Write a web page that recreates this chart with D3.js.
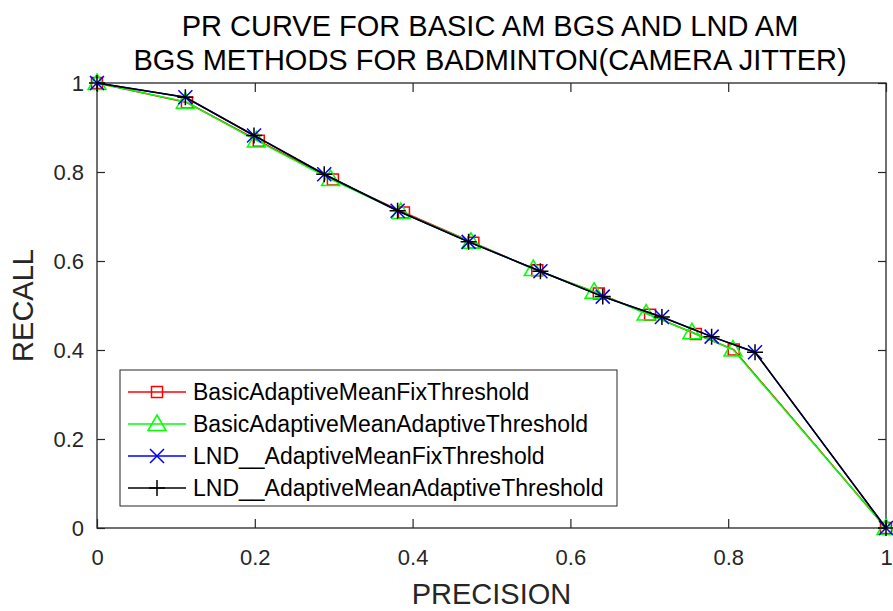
<!DOCTYPE html>
<html>
<head>
<meta charset="utf-8">
<script src="https://cdn.jsdelivr.net/npm/d3@7"></script>
<style>
  body { margin: 0; background: #fff; }
  svg { font-family: "Liberation Sans", Arial, sans-serif; }
</style>
</head>
<body>
<div id="chart"></div>
<script>
// precision (x) / recall (y)
const basicFixPrecision = [0, 0.114, 0.205, 0.299, 0.389, 0.477, 0.558, 0.636, 0.701, 0.759, 0.807, 1];
const basicFixRecall    = [1, 0.956, 0.870, 0.783, 0.709, 0.641, 0.579, 0.527, 0.479, 0.436, 0.401, 0];
const basicAdaPrecision = [0, 0.112, 0.202, 0.296, 0.385, 0.474, 0.553, 0.630, 0.696, 0.754, 0.806, 1];
const basicAdaRecall    = [1, 0.958, 0.871, 0.784, 0.710, 0.643, 0.582, 0.531, 0.482, 0.440, 0.401, 0];
const lndFixPrecision   = [0, 0.112, 0.199, 0.288, 0.381, 0.471, 0.562, 0.641, 0.716, 0.779, 0.834, 1];
const lndFixRecall      = [1, 0.968, 0.882, 0.795, 0.713, 0.643, 0.577, 0.520, 0.474, 0.430, 0.395, 0];
const lndAdaPrecision   = [0, 0.112, 0.199, 0.288, 0.381, 0.471, 0.562, 0.641, 0.716, 0.779, 0.834, 1];
const lndAdaRecall      = [1, 0.968, 0.882, 0.795, 0.713, 0.643, 0.577, 0.520, 0.474, 0.430, 0.395, 0];

const seriesNames = ["BasicAdaptiveMeanFixThreshold", "BasicAdaptiveMeanAdaptiveThreshold",
                     "LND__AdaptiveMeanFixThreshold", "LND__AdaptiveMeanAdaptiveThreshold"];
const seriesColors = ["#ff0000", "#00ff00", "#0000ff", "#000000"];
const seriesMarkers = ["square", "triangle", "cross", "plus"];
const tickValues = [0, 0.2, 0.4, 0.6, 0.8, 1];
const titleLines = ["PR CURVE FOR BASIC AM BGS AND LND AM", "BGS METHODS FOR BADMINTON(CAMERA JITTER)"];

const W = 893, H = 611;
const plotL = 97, plotR = 886, plotT = 83, plotB = 528;

const series = [
  [basicFixPrecision, basicFixRecall],
  [basicAdaPrecision, basicAdaRecall],
  [lndFixPrecision, lndFixRecall],
  [lndAdaPrecision, lndAdaRecall]
].map(([xs, ys], i) => ({
  name: seriesNames[i], color: seriesColors[i], marker: seriesMarkers[i],
  values: xs.map((x, j) => ({x: x, y: ys[j]}))
}));

const svg = d3.select("#chart").append("svg")
  .attr("width", W).attr("height", H);

const x = d3.scaleLinear().domain([0, 1]).range([plotL, plotR]);
const y = d3.scaleLinear().domain([0, 1]).range([plotB, plotT]);

const fmt = d => String(+d.toFixed(1));
const axisColor = "#262626";

function styleAxis(g) {
  g.select(".domain").remove();
  g.selectAll(".tick line").attr("stroke", axisColor).attr("stroke-width", 1.2);
  g.selectAll(".tick text").attr("fill", axisColor).attr("font-size", 22);
}

svg.append("g").attr("transform", `translate(0,${plotB})`)
  .call(d3.axisBottom(x).tickValues(tickValues).tickFormat(fmt).tickSize(-9).tickPadding(21))
  .call(styleAxis);
svg.append("g").attr("transform", `translate(0,${plotT})`)
  .call(d3.axisTop(x).tickValues(tickValues).tickFormat("").tickSize(-9))
  .call(styleAxis);
svg.append("g").attr("transform", `translate(${plotL},0)`)
  .call(d3.axisLeft(y).tickValues(tickValues).tickFormat(fmt).tickSize(-8).tickPadding(13))
  .call(styleAxis);
svg.append("g").attr("transform", `translate(${plotR},0)`)
  .call(d3.axisRight(y).tickValues(tickValues).tickFormat("").tickSize(-8))
  .call(styleAxis);

svg.append("rect")
  .attr("x", plotL).attr("y", plotT)
  .attr("width", plotR - plotL).attr("height", plotB - plotT)
  .attr("fill", "none").attr("stroke", axisColor).attr("stroke-width", 1.3);

// marker shapes
function markerPath(type) {
  if (type === "square") return "M-5.5,-5.5H5.5V5.5H-5.5Z";
  if (type === "triangle") return "M0,-9L9,6.5H-9Z";
  if (type === "cross") return "M-7,-7L7,7M-7,7L7,-7";
  return "M-8,0H8M0,-8V8";
}

const line = d3.line().x(d => x(d.x)).y(d => y(d.y));

series.forEach(s => {
  const g = svg.append("g");
  g.append("path").datum(s.values)
    .attr("d", line).attr("fill", "none")
    .attr("stroke", s.color).attr("stroke-width", 1.5);
  g.selectAll("path.m").data(s.values).enter().append("path")
    .attr("class", "m")
    .attr("transform", d => `translate(${x(d.x)},${y(d.y)})`)
    .attr("d", markerPath(s.marker))
    .attr("fill", "none").attr("stroke", s.color).attr("stroke-width", 1.5);
});

// title
svg.append("g").selectAll("text").data(titleLines).enter().append("text")
  .attr("x", 490).attr("y", (d, i) => 36 + i * 34)
  .attr("text-anchor", "middle").attr("font-size", 29).attr("fill", "#000")
  .text(d => d);

// axis labels
svg.append("text").attr("x", (plotL + plotR) / 2).attr("y", 604)
  .attr("text-anchor", "middle").attr("font-size", 29).attr("fill", axisColor)
  .text("PRECISION");
svg.append("text")
  .attr("transform", `translate(33,${(plotT + plotB) / 2}) rotate(-90)`)
  .attr("text-anchor", "middle").attr("font-size", 29).attr("fill", axisColor)
  .text("RECALL");

// legend
const legend = svg.append("g").attr("transform", "translate(120,370)");
legend.append("rect").attr("width", 497).attr("height", 136)
  .attr("fill", "#fff").attr("stroke", axisColor).attr("stroke-width", 1);
const items = legend.selectAll("g.item").data(series).enter().append("g")
  .attr("class", "item")
  .attr("transform", (d, i) => `translate(0,${22 + i * 32})`);
items.append("line").attr("x1", 8).attr("x2", 66)
  .attr("stroke", d => d.color).attr("stroke-width", 1.5);
items.append("path").attr("transform", "translate(37,0)")
  .attr("d", d => markerPath(d.marker))
  .attr("fill", "none").attr("stroke", d => d.color).attr("stroke-width", 1.5);
items.append("text").attr("x", 73).attr("dy", "0.35em")
  .attr("font-size", 23).attr("fill", "#000")
  .text(d => d.name);
</script>
</body>
</html>
